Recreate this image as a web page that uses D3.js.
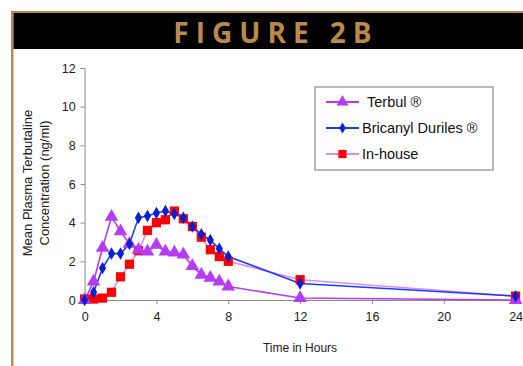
<!DOCTYPE html>
<html lang="en">
  <head>
    <meta charset="utf-8">
    <title>Figure 2B</title>
    <script src="https://d3js.org/d3.v7.min.js"></script>
    <style>
      body { margin: 0; background: #fff; }
      text { font-family: "Liberation Sans", Arial, sans-serif; }
    </style>
  </head>
  <body>
    <div id="chart"></div>
    <script type="text/javascript">
      // sampling times (hours)
      var hours = [0, 0.5, 1, 1.5, 2, 2.5, 3, 3.5, 4, 4.5, 5, 5.5, 6, 6.5, 7, 7.5, 8, 12, 24];

      // mean plasma concentrations (ng/ml)
      var terbul = [0, 0.95, 2.7, 4.3, 3.55, 2.9, 2.6, 2.5, 2.85, 2.5, 2.45, 2.35, 1.75, 1.3, 1.15, 0.95, 0.7, 0.1, 0.0];
      var bricanyl = [0, 0.4, 1.65, 2.4, 2.4, 2.9, 4.25, 4.35, 4.5, 4.6, 4.45, 4.25, 3.8, 3.4, 3.1, 2.65, 2.25, 0.85, 0.2];
      var inhouse = [0.05, 0.05, 0.1, 0.4, 1.2, 1.85, 2.55, 3.6, 4.0, 4.15, 4.6, 4.2, 3.8, 3.25, 2.6, 2.25, 2.0, 1.05, 0.2];

      var xTicks = [0, 4, 8, 12, 16, 20, 24];
      var yTicks = [0, 2, 4, 6, 8, 10, 12];
      var seriesNames = ["Terbul \u00AE", "Bricanyl Duriles \u00AE", "In-house"];

      var series = [
        {name: seriesNames[0], values: terbul, line: "#b53cf5", mark: "#b53cf5", shape: d3.symbolTriangle, size: 80},
        {name: seriesNames[1], values: bricanyl, line: "#1a3cff", mark: "#0a1fd0", shape: d3.symbolDiamond, size: 45},
        {name: seriesNames[2], values: inhouse, line: "#d98cf8", mark: "#ff0000", shape: d3.symbolSquare, size: 85}
      ];

      var svg = d3.select("#chart").append("svg")
        .attr("width", 523)
        .attr("height", 366);

      // gold frame + black banner
      var gold = "#b98a4c";
      svg.append("rect").attr("x", 11).attr("y", 11).attr("width", 512).attr("height", 2).attr("fill", gold);
      svg.append("rect").attr("x", 11).attr("y", 11).attr("width", 2.5).attr("height", 355).attr("fill", gold);
      svg.append("rect").attr("x", 13.5).attr("y", 13).attr("width", 510).attr("height", 36).attr("fill", "#000");
      svg.append("text")
        .attr("x", 276)
        .attr("y", 43)
        .attr("text-anchor", "middle")
        .style("font-family", "'Open Sans', Lato, sans-serif")
        .style("font-weight", "bold")
        .style("font-size", "28px")
        .style("letter-spacing", "7px")
        .attr("fill", gold)
        .text("FIGURE 2B");

      // scales
      var xScale = d3.scaleLinear().domain([0, 24]).range([84.6, 515.6]);
      var yScale = d3.scaleLinear().domain([0, 12]).range([300, 68]);

      var xAxis = svg.append("g")
        .attr("transform", "translate(0,300)")
        .call(d3.axisBottom(xScale).tickValues(xTicks).tickSize(4).tickPadding(8));
      var yAxis = svg.append("g")
        .attr("transform", "translate(84.6,0)")
        .call(d3.axisLeft(yScale).tickValues(yTicks).tickSize(4).tickPadding(5));

      [xAxis, yAxis].forEach(function(g) {
        g.select(".domain").attr("stroke", "#8a8a8a");
        g.selectAll(".tick line").attr("stroke", "#8a8a8a");
        g.selectAll(".tick text")
          .attr("fill", "#222")
          .style("font-size", "12.5px")
          .style("font-family", "'Liberation Sans', Arial, sans-serif");
      });

      // axis titles
      svg.append("text")
        .attr("x", 300)
        .attr("y", 352)
        .attr("text-anchor", "middle")
        .style("font-size", "12px")
        .attr("fill", "#222")
        .text("Time in Hours");

      var yTitle = svg.append("text")
        .attr("transform", "translate(32,183)rotate(-90)")
        .attr("text-anchor", "middle")
        .style("font-size", "13px")
        .attr("fill", "#222");
      yTitle.append("tspan").attr("x", 0).attr("dy", 0).text("Mean Plasma Terbutaline");
      yTitle.append("tspan").attr("x", 0).attr("dy", 17).text("Concentration (ng/ml)");

      // lines + markers
      var line = d3.line()
        .x(function(d) { return xScale(d[0]); })
        .y(function(d) { return yScale(d[1]); });

      // draw in-house first, then terbul, then bricanyl on top of lines; markers afterwards
      var drawOrder = [series[2], series[0], series[1]];
      drawOrder.forEach(function(s) {
        var pts = hours.map(function(h, i) { return [h, s.values[i]]; });
        svg.append("path")
          .datum(pts)
          .attr("d", line)
          .attr("fill", "none")
          .attr("stroke", s.line)
          .attr("stroke-width", 1.6);
      });
      drawOrder.forEach(function(s) {
        var pts = hours.map(function(h, i) { return [h, s.values[i]]; });
        svg.selectAll(null)
          .data(pts)
          .enter()
          .append("path")
          .attr("transform", function(d) { return "translate(" + xScale(d[0]) + "," + yScale(d[1]) + ")"; })
          .attr("d", d3.symbol().type(s.shape).size(s.size))
          .attr("fill", s.mark);
      });

      // legend
      var legend = svg.append("g").attr("transform", "translate(315,87)");
      legend.append("rect")
        .attr("width", 178)
        .attr("height", 83)
        .attr("fill", "#fff")
        .attr("stroke", "#777")
        .attr("stroke-width", 1);

      series.forEach(function(s, i) {
        var yy = 15 + i * 26;
        legend.append("line")
          .attr("x1", 11).attr("x2", 44)
          .attr("y1", yy).attr("y2", yy)
          .attr("stroke", s.line)
          .attr("stroke-width", 1.8);
        legend.append("path")
          .attr("transform", "translate(27.5," + yy + ")")
          .attr("d", d3.symbol().type(s.shape).size(s.size * 0.8))
          .attr("fill", s.mark);
        legend.append("text")
          .attr("x", i == 0 ? 52 : 47)
          .attr("y", yy + 5)
          .style("font-size", "14.5px")
          .attr("fill", "#111")
          .text(s.name);
      });
    </script>
  </body>
</html>
